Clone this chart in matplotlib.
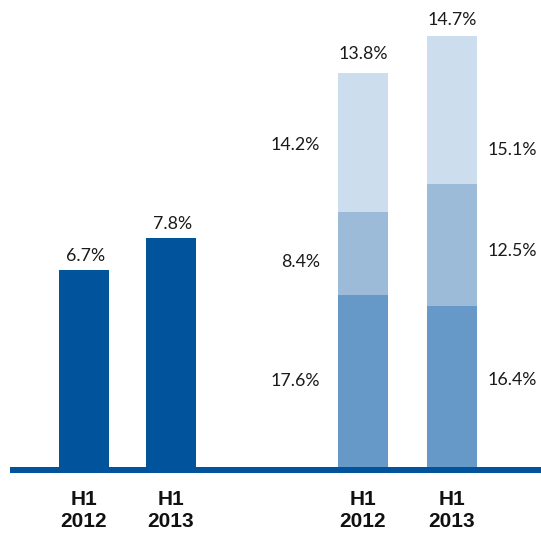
import matplotlib.pyplot as plt
from matplotlib.patches import Rectangle

# values
periods = ['H1\n2012', 'H1\n2013']
single_vals = [6.7, 7.8]
seg_bottom = [17.6, 16.4]
seg_middle = [8.4, 12.5]
seg_top = [14.2, 15.1]
stack_totals = ['13.8%', '14.7%']

dark = '#01539c'
c_bottom = '#6699c8'
c_middle = '#9bbbd8'
c_top = '#ccdeed'

plt.rcParams['font.family'] = ['Lato', 'DejaVu Sans']

W, H = 541, 535
fig = plt.figure(figsize=(W / 100, H / 100), dpi=100)
base_px = 467
ax = fig.add_axes([0, (H - base_px) / H, 1, base_px / H])
ax_l = ax.twinx()

# x in units of ~88 px, first bar centre at px 84
unit = 88.0
x0 = 84.0
ax.set_xlim(-x0 / unit, (W - x0) / unit)
left_pos = [0, (171 - x0) / unit]
right_pos = [(363 - x0) / unit, (452 - x0) / unit]
bw = 50 / unit

ymax = base_px / 9.8
ax.set_ylim(0, ymax)
ax_l.set_ylim(0, ymax / 3)

for a in (ax, ax_l):
    a.axis('off')

fs = 12.8

# left group: simple bars
ax_l.bar(left_pos, single_vals, width=bw, color=dark, zorder=2)
for x, v in zip(left_pos, single_vals):
    ax_l.annotate(f'{v}%', (x, v), xytext=(2, 14), textcoords='offset pixels',
                  ha='center', va='center', fontsize=fs, color='#1a1a1a')

# right group: stacked bars
ax.bar(right_pos, seg_bottom, width=bw, color=c_bottom, zorder=2)
ax.bar(right_pos, seg_middle, width=bw, bottom=seg_bottom, color=c_middle, zorder=2)
top_base = [a + b for a, b in zip(seg_bottom, seg_middle)]
ax.bar(right_pos, seg_top, width=bw, bottom=top_base, color=c_top, zorder=2)
tops = [a + b for a, b in zip(top_base, seg_top)]

for i, x in enumerate(right_pos):
    ax.annotate(stack_totals[i], (x, tops[i]), xytext=(0, 19 - 3 * i),
                textcoords='offset pixels', ha='center', va='center',
                fontsize=fs, color='#1a1a1a')

# segment labels: left bar labels on the left, right bar labels on the right
offs = [[0, -9, -2], [7, -6, -40]]
for i, x in enumerate(right_pos):
    centres = [seg_bottom[i] / 2,
               seg_bottom[i] + seg_middle[i] / 2,
               top_base[i] + seg_top[i] / 2]
    vals = [seg_bottom[i], seg_middle[i], seg_top[i]]
    for j, (c, v) in enumerate(zip(centres, vals)):
        if i == 0:
            ax.annotate(f'{v}%', (x - bw / 2, c), xytext=(-18, offs[i][j]),
                        textcoords='offset pixels', ha='right', va='center',
                        fontsize=fs, color='#1a1a1a')
        else:
            ax.annotate(f'{v}%', (x + bw / 2, c), xytext=(11, offs[i][j]),
                        textcoords='offset pixels', ha='left', va='center',
                        fontsize=fs, color='#1a1a1a')

# category labels under every bar
for x, lab in zip(left_pos + right_pos, periods + periods):
    ax.annotate(lab, (x, 0), xytext=(0, -23), textcoords='offset pixels',
                ha='center', va='top', fontsize=15, fontweight='bold',
                family=['Liberation Sans', 'DejaVu Sans'],
                color='#111111', linespacing=1.22, annotation_clip=False)

# baseline
fig.add_artist(Rectangle((10 / W, (H - 473) / H), 1 - 10 / W, 6 / H,
                         transform=fig.transFigure, color=dark, lw=0))

fig.savefig('out.png', dpi=100)
